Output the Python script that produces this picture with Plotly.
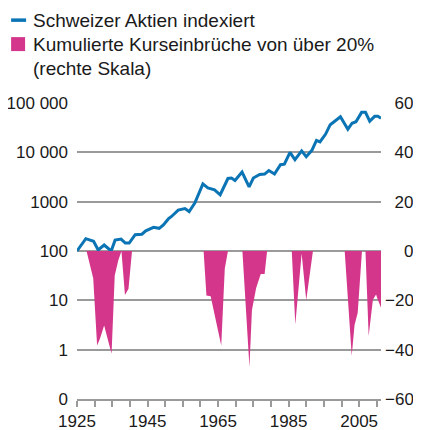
import plotly.graph_objects as go

# Swiss equities index (left, log scale)
idx_years = [1925.0, 1927.5, 1929.7, 1931.0, 1932.7, 1934.7, 1935.8, 1937.5, 1938.7, 1939.8,
             1941.5, 1943.4, 1944.5, 1946.7, 1948.3, 1949.5, 1950.9, 1951.8, 1953.7, 1955.6,
             1956.8, 1958.4, 1960.7, 1962.1, 1964.0, 1965.6, 1967.8, 1968.8, 1969.8, 1971.8,
             1973.8, 1975.0, 1976.8, 1978.2, 1979.4, 1981.0, 1982.7, 1983.8, 1985.4, 1986.8,
             1988.7, 1990.0, 1991.6, 1992.9, 1993.9, 1995.5, 1996.8, 1999.7, 2001.8, 2003.0,
             2004.1, 2005.7, 2006.8, 2008.0, 2009.4, 2010.3, 2011.2]
idx_values = [100, 178, 158, 105, 132, 100, 166, 174, 145, 145,
              214, 219, 257, 302, 288, 339, 447, 501, 676, 724,
              631, 933, 2291, 1905, 1738, 1380, 2951, 3020, 2692, 3981,
              1995, 3020, 3548, 3631, 4266, 3631, 5623, 5754, 10000, 7079,
              10715, 8128, 10965, 17378, 16218, 23442, 36308, 52481, 29512, 38905,
              41687, 64565, 64565, 42658, 53703, 53703, 48978]

# Cumulative drawdowns of more than 20% (right scale, %)
dd_years = [1925.0, 1927.7, 1929.6, 1930.7, 1931.5, 1932.7, 1934.8, 1935.7, 1936.7, 1937.4,
            1937.6, 1938.6, 1939.6, 1940.6,
            1960.9, 1961.7, 1962.9, 1965.9, 1966.9, 1967.8,
            1971.9, 1973.9, 1974.6, 1975.8, 1977.1, 1978.2, 1978.9,
            1985.9, 1986.9, 1988.7, 1990.0, 1991.9,
            2000.9, 2002.9, 2003.7, 2004.6, 2005.1, 2005.8,
            2006.8, 2007.7, 2008.9, 2009.8, 2010.2, 2011.2]
dd_values = [0, 0, -11, -38.3, -35.6, -30.2, -41.7, -9.9, -3.9, 0,
             0, -17.8, -15.3, 0,
             0, -18, -18.3, -38.3, -7.2, 0,
             0, -47, -24, -15, -9.3, -9.3, 0,
             0, -29.8, -1, -20, 0,
             0, -42.5, -30, -25, -16, 0,
             0, -34.5, -19.8, -17.6, -19.4, -23]

left_tickvals = [0.1, 1, 10, 100, 1000, 10000, 100000]
left_ticktext = ["0", "1", "10", "100", "1000", "10 000", "100 000"]
right_tickvals = [-60, -40, -20, 0, 20, 40, 60]
right_ticktext = ["\u221260", "\u221240", "\u221220", "\u2007\u20070", "\u200720", "\u200740", "\u200760"]
x_tickvals = list(range(1925, 2015, 5))
x_ticktext = [str(y) if (y - 1925) % 20 == 0 else "" for y in x_tickvals]

legend_line1 = "Schweizer Aktien indexiert"
legend_line2 = "Kumulierte Kurseinbrüche von über 20%"
legend_line3 = "(rechte Skala)"

BLUE = "#0a74b5"
MAGENTA = "#d3368b"
GRID = "#9a9a9a"
FONT = "Liberation Sans, Arial, sans-serif"

fig = go.Figure()
fig.add_trace(go.Scatter(x=dd_years, y=dd_values, yaxis="y2", mode="lines",
                         line=dict(width=0, color=MAGENTA), fill="tozeroy",
                         fillcolor=MAGENTA, hoverinfo="skip", showlegend=False))
fig.add_trace(go.Scatter(x=idx_years, y=idx_values, mode="lines",
                         line=dict(width=3, color=BLUE), showlegend=False))

# page has an 8px body margin: figure origin sits at page (8, 8)
OFF = 8
W, H = 421 - OFF, 430 - OFF
L, R, T, B = 77 - OFF, 39.5, 103 - OFF, 30.5
pw, ph = W - L - R, H - T - B

def px(x):  # page pixel -> paper
    return (x - OFF - L) / pw

def py(y):
    return (H - B - (y - OFF)) / ph

fig.update_layout(
    width=W, height=H,
    margin=dict(l=L, r=R, t=T, b=B, autoexpand=False),
    paper_bgcolor="white", plot_bgcolor="white",
    font=dict(family=FONT, size=17, color="#1a1a1a"),
    xaxis=dict(range=[1925, 2011.2], tickvals=x_tickvals, ticktext=x_ticktext,
               ticks="outside", ticklen=6, tickwidth=1.5, tickcolor=GRID,
               showline=True, linecolor=GRID, linewidth=1.5, showgrid=False,
               zeroline=False, fixedrange=True, automargin=False,
               tickfont=dict(size=17)),
    yaxis=dict(type="log", range=[-1, 5], tickvals=left_tickvals, ticktext=left_ticktext,
               showgrid=True, gridcolor=GRID, gridwidth=1.5, ticks="", zeroline=False,
               showline=False, ticklabelstandoff=8, automargin=False),
    yaxis2=dict(overlaying="y", side="right", range=[-60, 60], tickvals=right_tickvals,
                ticktext=right_ticktext, showgrid=False, zeroline=False, ticks="",
                showline=False, ticklabelstandoff=3, automargin=False),
)

shapes = [
    dict(type="line", xref="paper", yref="paper", x0=px(11), x1=px(26), y0=py(20), y1=py(20),
         line=dict(color=BLUE, width=3.5)),
    dict(type="rect", xref="paper", yref="paper", x0=px(11), x1=px(25), y0=py(51), y1=py(37),
         fillcolor=MAGENTA, line=dict(width=0)),
]
fig.update_layout(shapes=shapes)
for text, yc in [(legend_line1, 20), (legend_line2, 44), (legend_line3, 68)]:
    fig.add_annotation(text=text, xref="paper", yref="paper", x=px(31), y=py(yc),
                       xanchor="left", yanchor="middle", showarrow=False,
                       font=dict(family=FONT, size=19, color="#1a1a1a"))

fig.write_html("out.html")
